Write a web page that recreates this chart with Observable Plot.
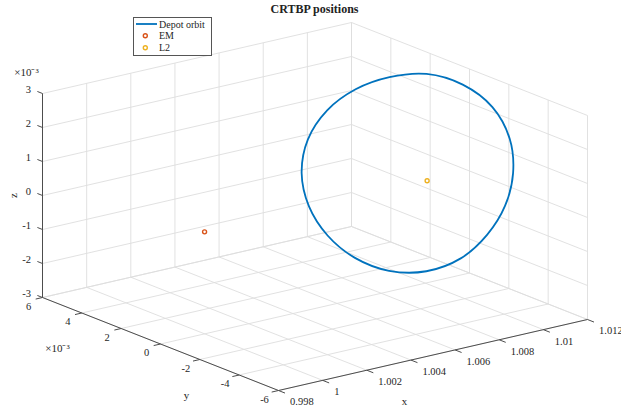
<!DOCTYPE html>
<html><head><meta charset="utf-8">
<script src="https://cdn.jsdelivr.net/npm/d3@7"></script>
<script src="https://cdn.jsdelivr.net/npm/@observablehq/plot@0.6"></script>
<style>
html,body{margin:0;padding:0;background:#fff;}
#wrap{position:relative;width:621px;height:412px;overflow:hidden;font-family:"Liberation Serif",serif;}
#chart{position:absolute;left:0;top:0;}
#title{position:absolute;top:2px;left:0;width:629px;text-align:center;font-weight:bold;font-size:12px;color:#222;}
#legend{position:absolute;left:133px;top:17px;}
</style></head><body>
<div id="wrap"><div id="chart"></div><div id="title">CRTBP positions</div><svg id="legend" width="79" height="39"></svg></div>
<script>
// ---- data ----
const xTicks = [0.998, 1, 1.002, 1.004, 1.006, 1.008, 1.01, 1.012];
const xTickLabels = ["0.998", "1", "1.002", "1.004", "1.006", "1.008", "1.01", "1.012"];
const yTicks = [-6, -4, -2, 0, 2, 4, 6];          // ×10^-3
const yTickLabels = ["-6", "-4", "-2", "0", "2", "4", "6"];
const zTicks = [-3, -2, -1, 0, 1, 2, 3];          // ×10^-3
const zTickLabels = ["-3", "-2", "-1", "0", "1", "2", "3"];

// Depot orbit (x, y ×10^-3, z ×10^-3)
const orbitX = [1.009916, 1.009277, 1.008639, 1.008040, 1.007572, 1.007319, 1.007310, 1.007515, 1.007900,
                1.008440, 1.009081, 1.009729, 1.010300, 1.010752, 1.011068, 1.011131, 1.010940, 1.010502];
const orbitY = [-4.555, -4.861, -4.664, -3.999, -2.776, -1.168, 0.560, 2.183, 3.561,
                4.540, 4.940, 4.689, 3.883, 2.667, 1.138, -0.631, -2.355, -3.725];
const orbitZ = [1.288, 0.486, -0.315, -1.068, -1.655, -1.972, -1.983, -1.726, -1.243,
                -0.565, 0.240, 1.054, 1.771, 2.338, 2.735, 2.814, 2.575, 2.024];

const pointNames = ["EM", "L2"];
const pointX = [0.999997, 1.01008];
const pointY = [0, 0];
const pointZ = [0, 0];
const pointColors = ["#D95319", "#EDB120"];
const orbitColor = "#0072BD";

// ---- 3D view (axis box projected to the page) ----
const xDom = [0.998, 1.012], yDom = [-6, 6], zDom = [-3, 3];
const sx = d3.scaleLinear().domain(xDom).range([0, 1]);
const sy = d3.scaleLinear().domain(yDom).range([0, 1]);
const sz = d3.scaleLinear().domain(zDom).range([0, 1]);
const O = [278, 390], EX = [309, -71], EY = [-236, -93], EZ = [0, -204];
function proj(x, y, z) {
  const u = sx(x), v = sy(y), w = sz(z);
  return [O[0] + u*EX[0] + v*EY[0] + w*EZ[0], O[1] + u*EX[1] + v*EY[1] + w*EZ[1]];
}
function seg(a, b) { const p = proj(...a), q = proj(...b); return {x1: p[0], y1: p[1], x2: q[0], y2: q[1]}; }

const [x0, x1] = xDom, [y0, y1] = yDom, [z0, z1] = zDom;
const grid = [];
for (const x of xTicks) { grid.push(seg([x, y0, z0], [x, y1, z0])); grid.push(seg([x, y1, z0], [x, y1, z1])); }
for (const y of yTicks) { grid.push(seg([x0, y, z0], [x1, y, z0])); grid.push(seg([x1, y, z0], [x1, y, z1])); }
for (const z of zTicks) { grid.push(seg([x0, y1, z], [x1, y1, z])); grid.push(seg([x1, y1, z], [x1, y0, z])); }

const axes = [seg([x0, y0, z0], [x1, y0, z0]), seg([x0, y0, z0], [x0, y1, z0]), seg([x0, y1, z0], [x0, y1, z1])];
// tick stubs (pointing out of the box)
const dxT = (x1 - x0) * 7 / Math.hypot(...EX), dyT = (y1 - y0) * 7 / Math.hypot(...EY), dyZ = (y1 - y0) * 5.5 / Math.hypot(...EY);
const ticks = [];
for (const x of xTicks) ticks.push(seg([x, y0, z0], [x, y0 - dyT, z0]));
for (const y of yTicks) ticks.push(seg([x0, y, z0], [x0 - dxT, y, z0]));
for (const z of zTicks) ticks.push(seg([x0, y1, z], [x0, y1 + dyZ, z]));

const xLab = xTicks.map((x, i) => { const p = proj(x, y0, z0); return {x: p[0], y: p[1], t: xTickLabels[i]}; });
const yLab = yTicks.map((y, i) => { const p = proj(x0, y, z0); return {x: p[0], y: p[1], t: yTickLabels[i]}; });
const zLab = zTicks.map((z, i) => { const p = proj(x0, y1, z); return {x: p[0], y: p[1], t: zTickLabels[i]}; });

const orbit = orbitX.map((x, i) => { const p = proj(x, orbitY[i], orbitZ[i]); return {x: p[0], y: p[1]}; });
const pts = pointNames.map((n, i) => { const p = proj(pointX[i], pointY[i], pointZ[i]); return {x: p[0], y: p[1], name: n, c: pointColors[i]}; });

const mx = proj((x0 + x1) / 2, y0, z0), my = proj(x0, 0, z0), mz = proj(x0, y1, 0);
const zTop = proj(x0, y1, z1), yTop = proj(x0, y1, z0);
const titles = [
  {x: mx[0], y: mx[1], t: "x", dx: -28.5, dy: 46, r: 0, fs: 11},
  {x: my[0], y: my[1], t: "y", dx: 26, dy: 51.5, r: 0, fs: 11},
  {x: mz[0], y: mz[1], t: "z", dx: -29, dy: 0, r: -90, fs: 11},
  {x: zTop[0], y: zTop[1], t: "×10⁻³", dx: -16, dy: -21, r: 0, fs: 11},
  {x: yTop[0], y: yTop[1], t: "×10⁻³", dx: 15, dy: 51, r: 0, fs: 11}
];

const font = "Liberation Serif";
const txtColor = "#262626";
const chart = Plot.plot({
  width: 621, height: 412, margin: 0,
  x: {domain: [0, 621], range: [0, 621], axis: null},
  y: {domain: [0, 412], range: [0, 412], axis: null},
  style: {fontFamily: font, background: "#fff"},
  marks: [
    Plot.link(grid, {x1: "x1", y1: "y1", x2: "x2", y2: "y2", stroke: "#dedede", strokeWidth: 0.9}),
    Plot.line(orbit, {x: "x", y: "y", stroke: orbitColor, strokeWidth: 1.8, curve: "catmull-rom-closed"}),
    Plot.dot(pts, {x: "x", y: "y", r: 2, stroke: "c", fill: "none", strokeWidth: 1.4}),
    Plot.link(axes, {x1: "x1", y1: "y1", x2: "x2", y2: "y2", stroke: "#4d4d4d", strokeWidth: 1}),
    Plot.link(ticks, {x1: "x1", y1: "y1", x2: "x2", y2: "y2", stroke: "#4d4d4d", strokeWidth: 1}),
    Plot.text(xLab, {x: "x", y: "y", text: "t", dx: 11.5, dy: 11.5, textAnchor: "start", fontSize: 10.5, fill: txtColor}),
    Plot.text(yLab, {x: "x", y: "y", text: "t", dx: -14, dy: 9, textAnchor: "middle", fontSize: 10.5, fill: txtColor}),
    Plot.text(zLab, {x: "x", y: "y", text: "t", dx: -11.5, dy: -4, textAnchor: "end", fontSize: 10.5, fill: txtColor}),
    ...titles.map(d => Plot.text([d], {x: "x", y: "y", text: "t", dx: d.dx, dy: d.dy, rotate: d.r, fontSize: d.fs, fill: txtColor}))
  ]
});
document.getElementById("chart").append(chart);

// legend
const lg = d3.select("#legend");
lg.append("rect").attr("x", 0.5).attr("y", 0.5).attr("width", 78).attr("height", 38).attr("fill", "#fff").attr("stroke", "#555").attr("stroke-width", 1);
lg.append("line").attr("x1", 3).attr("x2", 24).attr("y1", 7).attr("y2", 7).attr("stroke", orbitColor).attr("stroke-width", 1.8);
const rowsY = [7, 18.7, 30.7];
const labels = ["Depot orbit"].concat(pointNames);
labels.forEach((t, i) => lg.append("text").attr("x", 26).attr("y", rowsY[i]).attr("dy", "0.35em").attr("font-family", font).attr("font-size", 10).attr("fill", txtColor).text(t));
pointColors.forEach((c, i) => lg.append("circle").attr("cx", 12.3).attr("cy", rowsY[i + 1]).attr("r", 2).attr("fill", "none").attr("stroke", c).attr("stroke-width", 1.4));
</script>
</body></html>
